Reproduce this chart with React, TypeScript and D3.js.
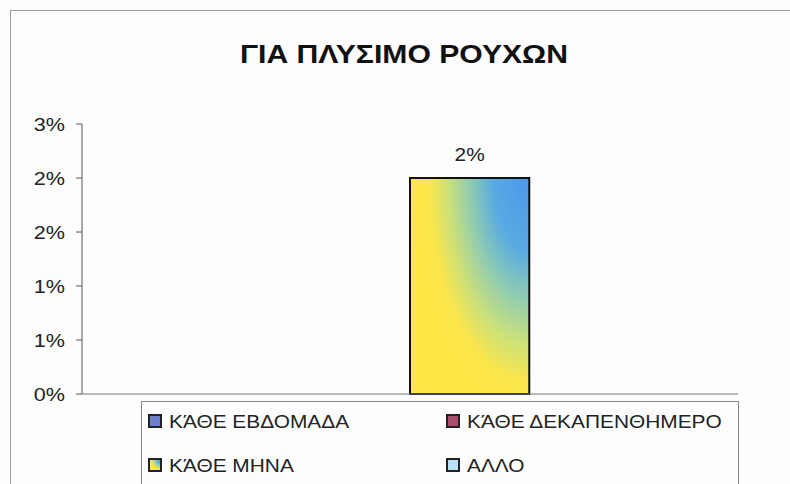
import React from 'react';
import * as d3 from 'd3';

const title = "ΓΙΑ ΠΛΥΣΙΜΟ ΡΟΥΧΩΝ";
const categories = [""];
const seriesNames = ["ΚΆΘΕ ΕΒΔΟΜΑΔΑ", "ΚΆΘΕ ΔΕΚΑΠΕΝΘΗΜΕΡΟ", "ΚΆΘΕ ΜΗΝΑ", "ΑΛΛΟ"];
const seriesValues: (number | null)[] = [null, null, 0.02, null];
const barLabels = ["", "", "2%", ""];
const yTicks = [0, 0.005, 0.01, 0.015, 0.02, 0.025];
const yTickLabels = ["0%", "1%", "1%", "2%", "2%", "3%"];

const width = 790;
const height = 484;
const margin = { top: 124, right: 52, bottom: 90, left: 82 };
const font = "'Liberation Sans', Arial, sans-serif";
const sx = 1.16; // the scan is a bit wide, stretch text to match

const fills = ["#6f7fcf", "#a84d6a", "url(#monthGrad)", "#b8e0f8"];

const y = d3.scaleLinear()
  .domain([0, 0.025])
  .range([height - margin.bottom, margin.top]);

const x0 = d3.scaleBand<string>()
  .domain(categories)
  .range([margin.left, width - margin.right])
  .paddingInner(0)
  .paddingOuter(0.1875);

const x1 = d3.scaleBand<string>()
  .domain(seriesNames)
  .range([0, x0.bandwidth()]);

const Txt = ({ x, y, children, anchor = "start", size = 18, weight = "normal", fill = "#222", scale = sx }: any) => (
  <text transform={`translate(${x},${y}) scale(${scale},1)`} textAnchor={anchor}
    fontSize={size} fontWeight={weight} fill={fill} fontFamily={font}>{children}</text>
);

const legendCols = [149, 447];
const legendRows = [415, 459];

export default function App() {
  const base = y(0);
  return (
    <svg width={width} height={height} style={{ position: 'absolute', left: 0, top: 0, background: '#fdfdfd' }}>
      <defs>
        <radialGradient id="monthGrad" cx="1" cy="0" r="1" fx="1" fy="0"
          gradientTransform="translate(1,0) scale(1,1.12) translate(-1,0)">
          <stop offset="0" stopColor="#4a98ea" />
          <stop offset="0.3" stopColor="#58aae2" />
          <stop offset="0.5" stopColor="#90ccb0" />
          <stop offset="0.68" stopColor="#cbe078" />
          <stop offset="0.84" stopColor="#fbe64c" />
          <stop offset="1" stopColor="#ffe845" />
        </radialGradient>
      </defs>

      {/* chart frame */}
      <rect x={10.5} y={10.5} width={width + 20} height={height + 20} fill="none" stroke="#9a9a9a" />

      <Txt x={404} y={63} anchor="middle" size={26} weight="bold" fill="#111">{title}</Txt>

      {/* y axis */}
      <line x1={margin.left} x2={margin.left} y1={y(0.025)} y2={base} stroke="#555" />
      {yTicks.map((t, i) => (
        <g key={i}>
          <line x1={margin.left - 6} x2={margin.left} y1={y(t)} y2={y(t)} stroke="#555" />
          <Txt x={margin.left - 17} y={y(t) + 6.5} anchor="end" size={18} scale={1.2}>{yTickLabels[i]}</Txt>
        </g>
      ))}

      {/* bars */}
      {categories.map(c => (
        <g key={c} transform={`translate(${x0(c)},0)`}>
          {seriesNames.map((s, i) => {
            const v = seriesValues[i];
            if (v == null) return null;
            const bx = x1(s)!;
            return (
              <g key={s}>
                <rect x={bx} y={y(v)} width={x1.bandwidth()} height={base - y(v)}
                  fill={fills[i]} stroke="#111" strokeWidth={2} />
                <Txt x={bx + x1.bandwidth() / 2} y={y(v) - 17} anchor="middle" size={18}>{barLabels[i]}</Txt>
              </g>
            );
          })}
        </g>
      ))}

      {/* x axis */}
      <line x1={margin.left} x2={width - margin.right} y1={base} y2={base} stroke="#777" />

      {/* legend */}
      <rect x={141.5} y={401.5} width={597} height={120} fill="#fdfdfd" stroke="#888" />
      {seriesNames.map((s, i) => {
        const lx = legendCols[i % 2];
        const ly = legendRows[Math.floor(i / 2)];
        return (
          <g key={s}>
            <rect x={lx} y={ly} width={12} height={12} fill={fills[i]} stroke="#222" strokeWidth={2} />
            <Txt x={lx + 20} y={ly + 13} size={18}>{s}</Txt>
          </g>
        );
      })}
    </svg>
  );
}
